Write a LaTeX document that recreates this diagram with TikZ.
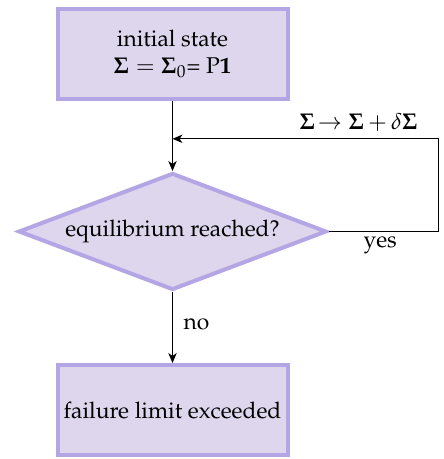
\documentclass[tikz,border=0pt]{standalone}
\usepackage[T1]{fontenc}
\usepackage{mathpazo}
\usetikzlibrary{positioning,arrows.meta,shapes.geometric,calc}
\definecolor{boxline}{RGB}{180,166,228}
\definecolor{boxfill}{RGB}{221,214,236}

\begin{document}
\begin{tikzpicture}[
  x=0.5pt, y=-0.5pt,
  font=\fontsize{11.4}{13.8}\selectfont,
  state/.style={draw=boxline, fill=boxfill, line width=2pt, minimum width=115pt, minimum height=45pt, align=center, inner sep=0pt},
  test/.style={diamond, draw=boxline, fill=boxfill, line width=2pt, aspect=2.66, minimum width=154pt, minimum height=58.5pt, inner sep=0pt},
  arr/.style={-{Stealth[length=5pt,width=4.2pt,inset=1.5pt]}, line width=0.5pt}
]
  \useasboundingbox (0,0) rectangle (443,459);

  \node[state] (init) at (172.5,54) {initial state\\ $\mathbf{\Sigma} = \mathbf{\Sigma}_{0}$= P\textbf{1}};
  \node[test, below=35pt of init] (equil) {equilibrium reached?};
  \node[state, below=35.5pt of equil] (fail) {failure limit exceeded};

  \coordinate[right=55pt of equil.east] (turn);
  \coordinate (join) at ($(init.south)!0.54!(equil.north)$);

  \draw[arr] (init.south) -- (equil.north);
  \draw[arr] (equil.south) -- node[right, pos=0.45, xshift=2pt] {no} (fail.north);
  \draw[arr] (equil.east) -- node[below, pos=0.47, inner sep=2pt] {yes} (turn)
    |- node[above, pos=0.65] {$\mathbf{\Sigma}\!\rightarrow \mathbf{\Sigma}\,{+}\,\delta\mathbf{\Sigma}$} (join);
\end{tikzpicture}
\end{document}
